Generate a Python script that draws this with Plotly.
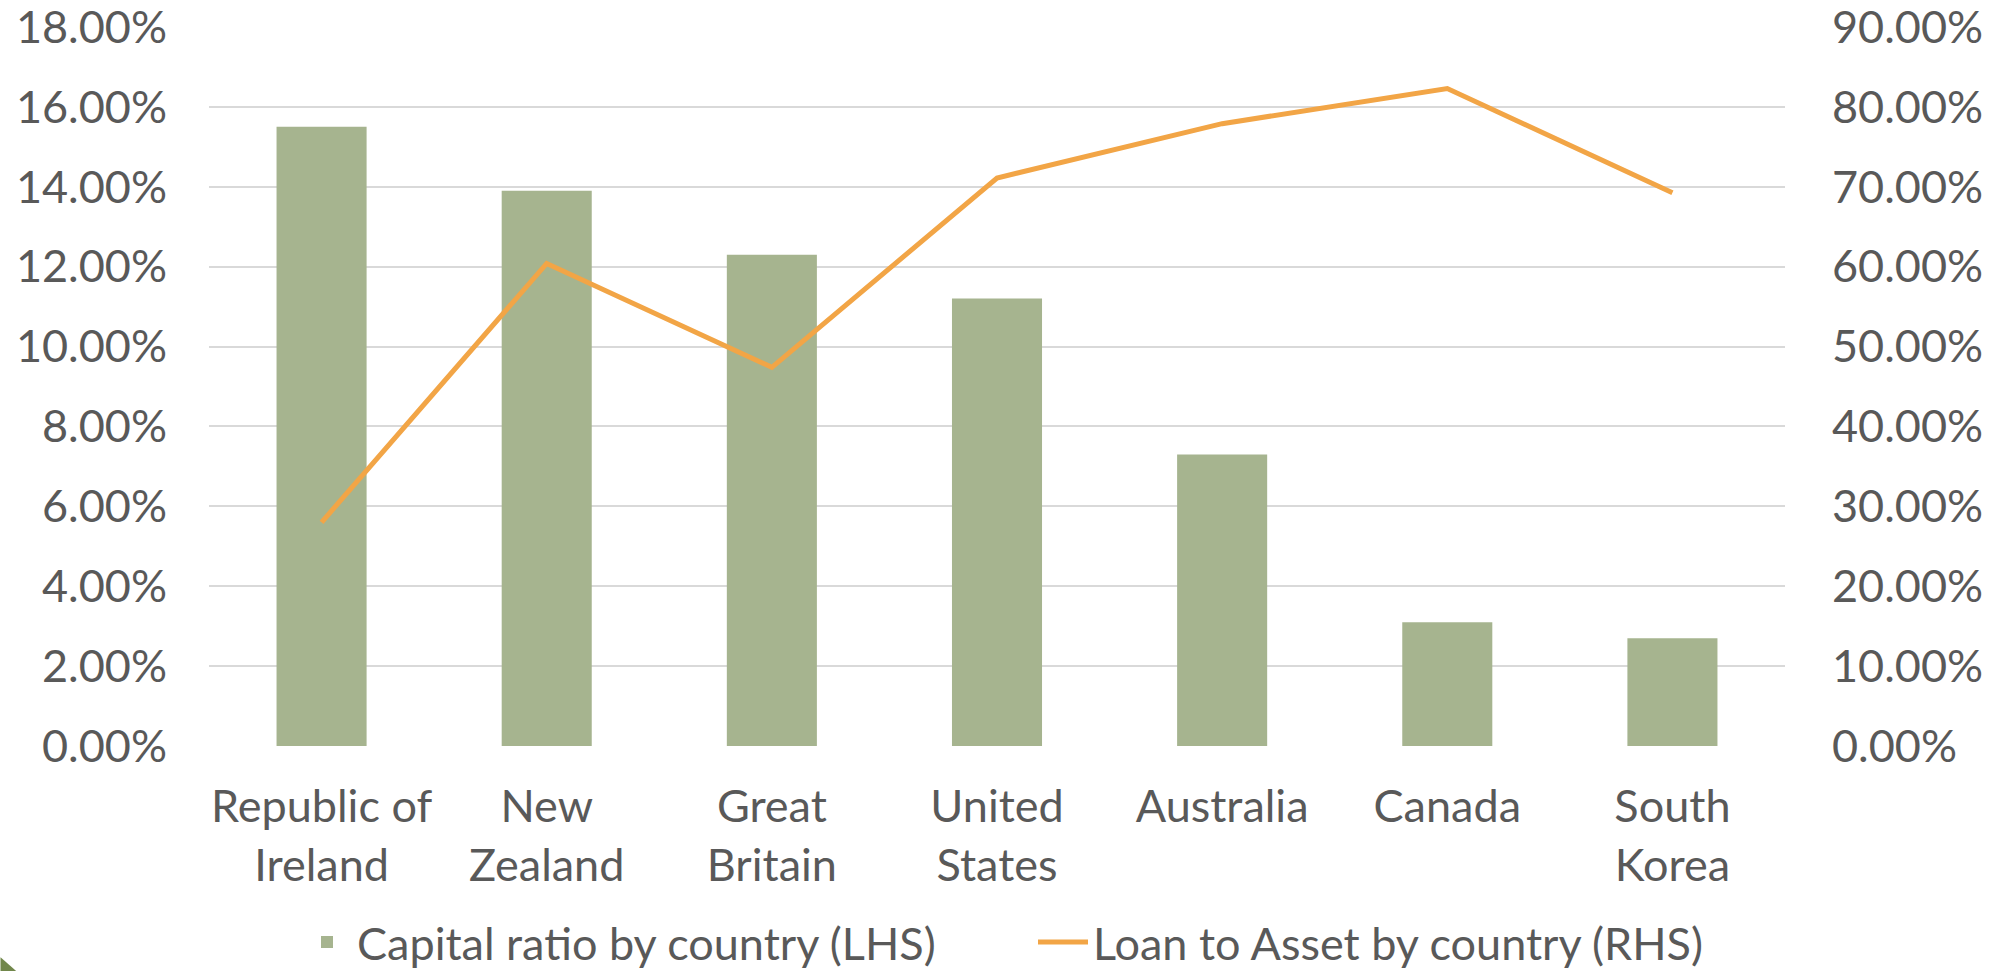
import plotly.graph_objects as go

countries = ["Republic of<br>Ireland", "New<br>Zealand", "Great<br>Britain", "United<br>States",
             "Australia", "Canada", "South<br>Korea"]
capital_ratio = [0.155, 0.139, 0.123, 0.112, 0.073, 0.031, 0.027]
loan_to_asset = [0.280, 0.604, 0.474, 0.711, 0.779, 0.823, 0.6925]

bar_name = "Capital ratio by country (LHS)"
line_name = "Loan to Asset by country (RHS)"

left_ticks = [i * 0.02 for i in range(10)]
right_ticks = [i * 0.10 for i in range(10)]

FONT = "Lato"
TXT = "#595959"
FS = 45

fig = go.Figure()
fig.add_trace(go.Bar(x=countries, y=capital_ratio, name=bar_name,
                     marker=dict(color="#A6B48F", line=dict(width=0)), yaxis="y"))
fig.add_trace(go.Scatter(x=countries, y=loan_to_asset, name=line_name, mode="lines",
                         line=dict(color="#F2A546", width=5), yaxis="y2"))

W, H = 2006, 971
L, R, T, B = 208.5, 221.4, 26.7, 225.3
PH = H - T - B
PW = W - L - R
fig.update_layout(
    width=W, height=H,
    margin=dict(l=L, r=R, t=T, b=B, pad=0, autoexpand=False),
    paper_bgcolor="white", plot_bgcolor="white",
    font=dict(family=FONT, color=TXT, size=FS),
    bargap=0.6,
    showlegend=True,
    legend=dict(orientation="h", xref="container", x=297 / W, xanchor="left",
                yref="paper", y=-(942 - (H - B)) / PH, yanchor="middle",
                font=dict(size=FS, color=TXT), itemwidth=50,
                entrywidth=671, entrywidthmode="pixels",
                traceorder="normal", bgcolor="rgba(0,0,0,0)"),
    xaxis=dict(showgrid=False, showline=False, ticks="", tickfont=dict(size=FS, color=TXT),
               ticklabelstandoff=30, zeroline=False, ticklabeloverflow="allow"),
    yaxis=dict(range=[0, 0.18], tickvals=left_ticks, tickformat=".2%", showgrid=True,
               gridcolor="#D9D9D9", gridwidth=2, zeroline=False, showline=False, ticks="",
               tickfont=dict(size=FS, color=TXT), ticklabelstandoff=41,
               ticklabeloverflow="allow"),
    yaxis2=dict(range=[0, 0.90], tickvals=right_ticks, tickformat=".2%", overlaying="y",
                side="right", showgrid=False, zeroline=False, showline=False, ticks="",
                tickfont=dict(size=FS, color=TXT), ticklabelstandoff=46,
                ticklabeloverflow="allow"),
    shapes=[dict(type="path", xref="paper", yref="paper",
                 path="M {x0},{y0} L {x1},{y0} L {x0},{y1} Z".format(
                     x0=-L / PW, x1=(16 - L) / PW,
                     y0=-B / PH, y1=-(B - 14) / PH),
                 fillcolor="#71874B", line=dict(width=0), layer="above")],
)

fig.write_html("out.html", config={"displayModeBar": False},
               post_script="document.body.style.margin='0';document.body.style.overflow='hidden';")
